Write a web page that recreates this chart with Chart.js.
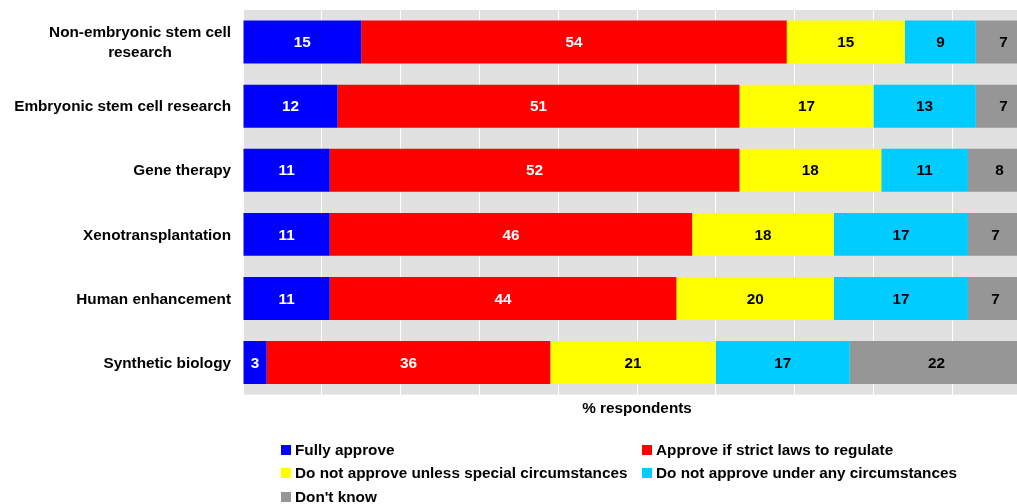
<!DOCTYPE html>
<html>
<head>
<meta charset="utf-8">
<script src="https://cdn.jsdelivr.net/npm/chart.js@4.4.1/dist/chart.umd.min.js"></script>
<style>
  body { margin: 0; background: #fff; }
  #wrap { position: relative; width: 1017px; height: 504px; overflow: hidden; }
  #chart { position: absolute; left: 0; top: 0; }
  #legend {
    position: absolute; left: 281px; top: 438px;
    display: grid; grid-template-columns: 361px auto;
    font: bold 15.3px "Liberation Sans", Arial, sans-serif; color: #000;
  }
  #legend div { display: flex; align-items: center; height: 23.5px; white-space: nowrap; }
  #legend span { display: inline-block; width: 10px; height: 10px; margin-right: 4px; }
</style>
</head>
<body>
<div id="wrap">
  <canvas id="chart" width="1031" height="504"></canvas>
  <div id="legend"></div>
</div>
<script>
const categories = [
  ['Non-embryonic stem cell', 'research'],
  'Embryonic stem cell research',
  'Gene therapy',
  'Xenotransplantation',
  'Human enhancement',
  'Synthetic biology',
];
const fullyApprove = [15, 12, 11, 11, 11, 3];
const strictLaws = [54, 51, 52, 46, 44, 36];
const unlessSpecial = [15, 17, 18, 18, 20, 21];
const underNone = [9, 13, 11, 17, 17, 17];
const dontKnow = [7, 7, 8, 7, 7, 22];
const xTicks = [0, 10, 20, 30, 40, 50, 60, 70, 80, 90, 100];

const FONT = '"Liberation Sans", Arial, sans-serif';

const series = [
  { label: 'Fully approve', data: fullyApprove, color: '#0000ff', text: '#ffffff' },
  { label: 'Approve if strict laws to regulate', data: strictLaws, color: '#ff0000', text: '#ffffff' },
  { label: 'Do not approve unless special circumstances', data: unlessSpecial, color: '#ffff00', text: '#000000' },
  { label: 'Do not approve under any circumstances', data: underNone, color: '#00ccff', text: '#000000' },
  { label: "Don't know", data: dontKnow, color: '#969696', text: '#000000' },
];

// Grey panel behind the bars
const panelBg = {
  id: 'panelBg',
  beforeDraw(c) {
    const { ctx, chartArea: a } = c;
    ctx.save();
    ctx.fillStyle = '#e1e1e1';
    ctx.fillRect(a.left, a.top, a.right - a.left, a.bottom - a.top);
    ctx.restore();
  },
};

// Numbers in the middle of each segment
const segmentLabels = {
  id: 'segmentLabels',
  afterDatasetsDraw(c) {
    const { ctx } = c;
    ctx.save();
    ctx.font = `bold 15.3px ${FONT}`;
    ctx.textAlign = 'center';
    ctx.textBaseline = 'middle';
    c.data.datasets.forEach((ds, i) => {
      c.getDatasetMeta(i).data.forEach((bar, j) => {
        ctx.fillStyle = series[i].text;
        ctx.fillText(String(ds.data[j]), (bar.x + bar.base) / 2, bar.y + 1);
      });
    });
    ctx.restore();
  },
};

// Category names, wrapped lines centred on each other
const categoryLabels = {
  id: 'categoryLabels',
  afterDraw(c) {
    const { ctx } = c;
    const yAxis = c.scales.y;
    ctx.save();
    ctx.font = `bold 15.3px ${FONT}`;
    ctx.fillStyle = '#000';
    ctx.textAlign = 'center';
    ctx.textBaseline = 'middle';
    categories.forEach((cat, i) => {
      const lines = Array.isArray(cat) ? cat : [cat];
      const w = Math.max(...lines.map((l) => ctx.measureText(l).width));
      const cx = 231 - w / 2;
      const y = yAxis.getPixelForTick(i);
      lines.forEach((l, k) => {
        ctx.fillText(l, cx, y + (k - (lines.length - 1) / 2) * 20 + 1);
      });
    });
    ctx.restore();
  },
};

const chart = new Chart(document.getElementById('chart'), {
  type: 'bar',
  data: {
    labels: categories,
    datasets: series.map((s) => ({
      label: s.label,
      data: s.data,
      backgroundColor: s.color,
      borderWidth: 0,
      categoryPercentage: 0.67,
      barPercentage: 1,
    })),
  },
  options: {
    indexAxis: 'y',
    responsive: false,
    animation: false,
    layout: {
      padding: { top: 10, bottom: 83, left: 0, right: 0 },
    },
    scales: {
      x: {
        stacked: true,
        min: 0,
        max: 100,
        afterBuildTicks: (scale) => { scale.ticks = xTicks.map((v) => ({ value: v })); },
        grid: { color: '#ffffff', lineWidth: 1, drawTicks: false },
        border: { display: false },
        ticks: { display: false },
        title: {
          display: true,
          text: '% respondents',
          color: '#000',
          font: { family: FONT, size: 15.3, weight: 'bold' },
          padding: { top: 5, bottom: 3 },
        },
      },
      y: {
        stacked: true,
        grid: { display: false },
        border: { display: false },
        ticks: { display: false },
        afterFit: (scale) => { scale.width = 243; },
      },
    },
    plugins: {
      legend: { display: false },
      tooltip: { enabled: false },
    },
  },
  plugins: [panelBg, segmentLabels, categoryLabels],
});

// Two-column legend under the chart
const legend = document.getElementById('legend');
chart.data.datasets.forEach((ds) => {
  const item = document.createElement('div');
  const box = document.createElement('span');
  box.style.background = ds.backgroundColor;
  item.appendChild(box);
  item.appendChild(document.createTextNode(ds.label));
  legend.appendChild(item);
});
</script>
</body>
</html>
